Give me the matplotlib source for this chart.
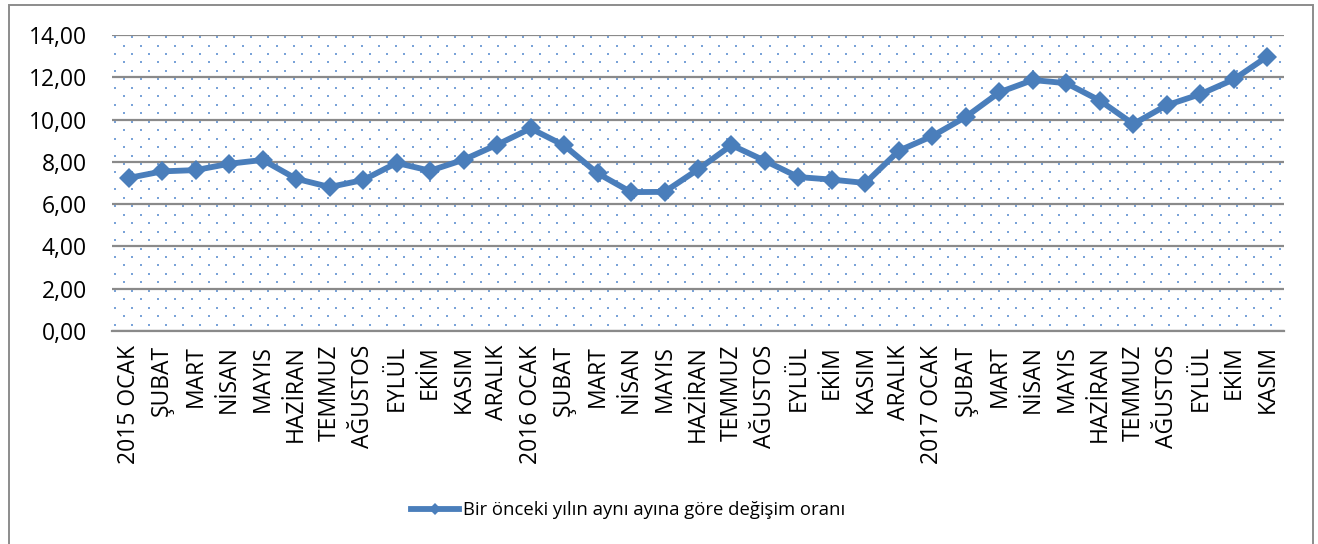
import matplotlib
matplotlib.use("Agg")
import matplotlib.pyplot as plt
import numpy as np
from matplotlib.patches import Rectangle

months = ["2015 OCAK", "ŞUBAT", "MART", "NİSAN", "MAYIS", "HAZİRAN", "TEMMUZ", "AĞUSTOS",
          "EYLÜL", "EKİM", "KASIM", "ARALIK",
          "2016 OCAK", "ŞUBAT", "MART", "NİSAN", "MAYIS", "HAZİRAN", "TEMMUZ", "AĞUSTOS",
          "EYLÜL", "EKİM", "KASIM", "ARALIK",
          "2017 OCAK", "ŞUBAT", "MART", "NİSAN", "MAYIS", "HAZİRAN", "TEMMUZ", "AĞUSTOS",
          "EYLÜL", "EKİM", "KASIM"]
values = [7.24, 7.55, 7.61, 7.91, 8.09, 7.20, 6.81, 7.14, 7.95, 7.58, 8.10, 8.81,
          9.58, 8.78, 7.46, 6.57, 6.58, 7.64, 8.79, 8.05, 7.28, 7.16, 7.00, 8.53,
          9.22, 10.13, 11.29, 11.87, 11.72, 10.90, 9.79, 10.68, 11.20, 11.90, 12.98]
yticks = [0, 2, 4, 6, 8, 10, 12, 14]
ytick_labels = ["0,00", "2,00", "4,00", "6,00", "8,00", "10,00", "12,00", "14,00"]
series_name = "Bir önceki yılın aynı ayına göre değişim oranı"

plt.rcParams['font.family'] = ['Open Sans', 'DejaVu Sans']

W, H = 1318, 544
AX_L, AX_R, AX_T, AX_B = 112, 1284, 35, 331
fig = plt.figure(figsize=(W / 100, H / 100), dpi=100)
ax = fig.add_axes([AX_L / W, 1 - AX_B / H, (AX_R - AX_L) / W, (AX_B - AX_T) / H])

# dotted background texture (decoration, in axes-fraction space)
aw, ah = AX_R - AX_L, AX_B - AX_T
row_step, col_step = ah / 35.0, 17.0
dx, dy = [], []
for k, ry in enumerate(np.arange(0.25 * row_step, ah, row_step)):
    start = 3.0 if k % 2 == 0 else 3.0 + col_step / 2
    for cx in np.arange(start, aw, col_step):
        dx.append(cx / aw)
        dy.append(1 - ry / ah)
ax.scatter(dx, dy, s=2.4, marker='s', color='#7aa3d8', linewidths=0,
           transform=ax.transAxes, zorder=0.5)

x = list(range(len(months)))
ax.plot(x, values, color='#4a7ebb', linewidth=4.2, marker='D', markersize=10,
        markeredgewidth=0, zorder=3, label=series_name)

ax.set_xlim(-0.5, len(months) - 0.5)
ax.set_ylim(0, 14)
ax.set_yticks(yticks)
ax.set_yticklabels(ytick_labels, fontsize=16.5)
ax.set_xticks(x)
ax.set_xticklabels(months, rotation=90, fontsize=16.5)
ax.tick_params(axis='both', length=0, colors='black')
ax.tick_params(axis='y', pad=18)
ax.tick_params(axis='x', pad=10)
ax.grid(axis='y', color='#8a8a8a', linewidth=1.6, zorder=1)
for s in ['left', 'right', 'top']:
    ax.spines[s].set_visible(False)
ax.spines['bottom'].set_color('#8a8a8a')
ax.spines['bottom'].set_linewidth(1.6)

# outer chart border (bottom edge lies just outside the image)
fig.patches.append(Rectangle((9 / W, 1 - 547 / H), (1313 - 9) / W, (547 - 5) / H,
                             transform=fig.transFigure, fill=False,
                             edgecolor='#8c8c8c', linewidth=1.4))

leg = fig.legend(loc='center', bbox_to_anchor=(628 / W, 1 - 510 / H), frameon=False,
                 fontsize=13.3, handlelength=2.6, handletextpad=0.2, markerscale=0.6)

fig.savefig('out.png', dpi=100)
